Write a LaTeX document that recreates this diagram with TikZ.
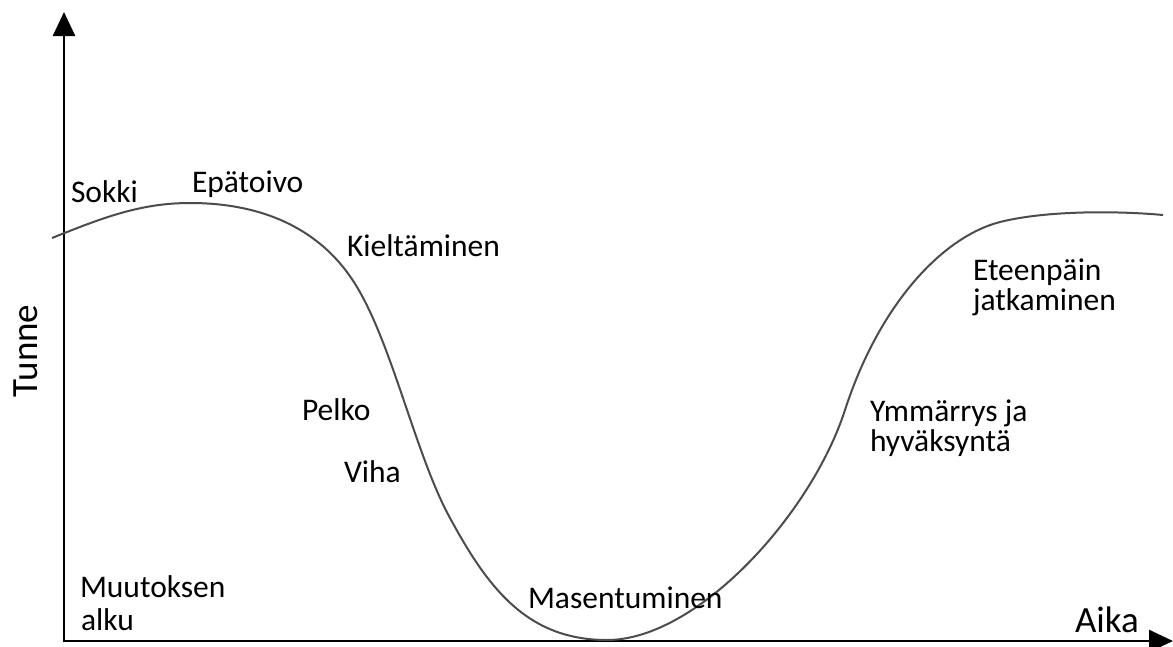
\documentclass[tikz,border=0pt]{standalone}
\usepackage{fontspec}
\setmainfont{Carlito}
\usetikzlibrary{arrows.meta}
\begin{document}
\begin{tikzpicture}[x=1pt,y=-1pt,
  axis/.style={line width=2.6pt,black,-{Triangle[width=22pt,length=24pt]}},
  curveline/.style={line width=2pt,black!70},
  lbl/.style={inner sep=0pt,outer sep=0pt,anchor=base west,font=\fontsize{31.5}{33}\selectfont},
  big/.style={inner sep=0pt,outer sep=0pt,anchor=base west,font=\fontsize{37}{40}\selectfont}]
\useasboundingbox (0,0) rectangle (1173,646);
\fill[white] (0,0) rectangle (1173,646);
\coordinate (origin) at (64,641);
\coordinate (ytip) at (64,12);
\coordinate (xtip) at (1173,641);
\draw[axis] ([yshift=-1.3pt]origin) -- (ytip);
\draw[axis] ([xshift=-1.3pt]origin) -- (xtip);
\draw[curveline] (52,238)
  .. controls (102,218) and (140,203) .. (190,203)
  .. controls (260,203) and (321,227) .. (357,287)
  .. controls (393,347) and (416,456) .. (450,518)
  .. controls (488,588) and (527,640) .. (607,640)
  .. controls (697,640) and (811,515) .. (845,410)
  .. controls (879,305) and (942,237) .. (1000,222)
  .. controls (1048,210) and (1120,211) .. (1163,215);
\node[lbl] (sokki) at (71,202) {Sokki};
\node[lbl] (epa) at (192,192) {Epätoivo};
\node[lbl] (kiel) at (347,256) {Kieltäminen};
\node[lbl] (pelko) at (302,420) {Pelko};
\node[lbl] (viha) at (344,482) {Viha};
\node[lbl] (muut) at (80,597) {Muutoksen};
\node[lbl] (alku) at (81,630) {alku};
\node[lbl] (mas) at (528,608) {Masentuminen};
\node[lbl] (ete) at (973,280) {Eteenpäin};
\node[lbl] (jatk) at (973,310) {jatkaminen};
\node[lbl] (ymm) at (870,421) {Ymmärrys ja};
\node[lbl] (hyv) at (870,451) {hyväksyntä};
\node[big] (aika) at (1075,632) {Aika};
\node[big,rotate=90] (tunne) at (37,397) {Tunne};
\end{tikzpicture}
\end{document}
